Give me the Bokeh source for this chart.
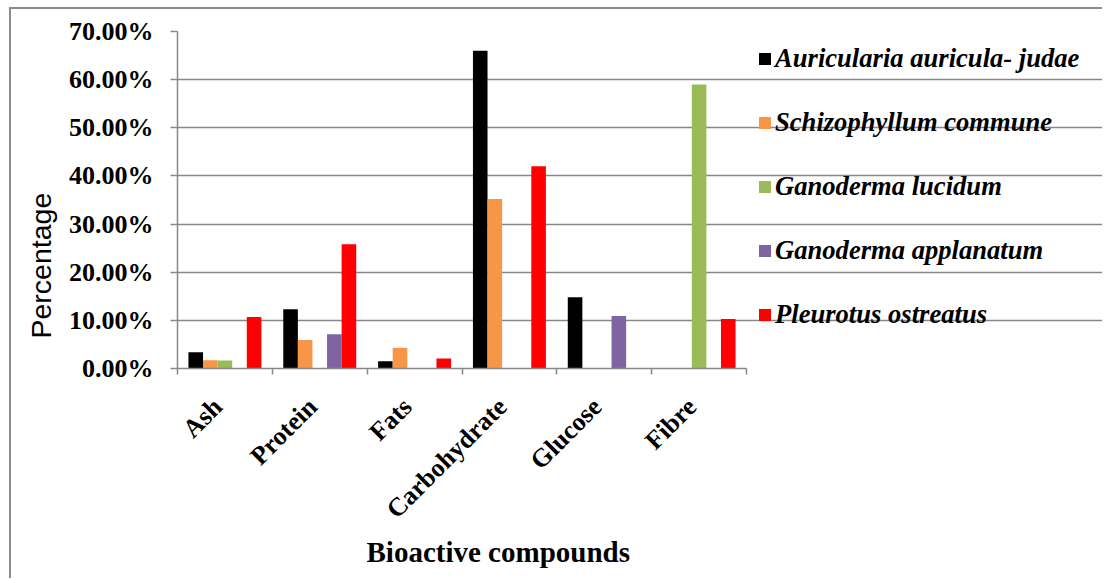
import math
from bokeh.plotting import figure
from bokeh.models import Range1d, FixedTicker, PrintfTickFormatter, Legend, LegendItem, ColumnDataSource, Title
from bokeh.embed import file_html
from bokeh.resources import INLINE

categories = ["Ash", "Protein", "Fats", "Carbohydrate", "Glucose", "Fibre"]
series_names = ["Auricularia auricula- judae", "Schizophyllum commune", "Ganoderma lucidum",
                "Ganoderma applanatum", "Pleurotus ostreatus"]
auricularia = [3.4, 12.3, 1.5, 66.0, 14.8, 0.0]
schizophyllum = [1.7, 5.9, 4.3, 35.2, 0.0, 0.0]
ganoderma_lucidum = [1.65, 0.0, 0.0, 0.0, 0.0, 59.0]
ganoderma_applanatum = [0.0, 7.1, 0.0, 0.0, 10.9, 0.0]
pleurotus = [10.7, 25.8, 2.1, 42.0, 0.0, 10.3]
series_values = [auricularia, schizophyllum, ganoderma_lucidum, ganoderma_applanatum, pleurotus]
colors = ["#000000", "#F79646", "#9BBB59", "#8064A2", "#FF0000"]
y_ticks = [0, 10, 20, 30, 40, 50, 60, 70]

SERIF = "Liberation Serif"
GRID = "#888888"

FIG_W, FIG_H = 1093, 571
LEFT, TOP, BOTTOM = 166, 22, 212
PLOT_PX = 569                      # width of the bar area in px
frame_px = FIG_W - LEFT            # frame extends to the right edge (legend lives there)
ncat = len(categories)
x_end = ncat * frame_px / PLOT_PX

p = figure(width=FIG_W, height=FIG_H, x_range=Range1d(0, x_end), y_range=Range1d(0, 70),
           output_backend="svg", toolbar_location=None,
           min_border_left=LEFT, min_border_right=0, min_border_top=TOP, min_border_bottom=BOTTOM)
p.styles = {"border-left": "2px solid #8c8c8c", "border-top": "2px solid #8c8c8c",
            "margin-left": "9px", "margin-top": "7px"}
p.outline_line_color = None
p.background_fill_color = "white"
p.border_fill_color = "white"

bar_w = 1 / 6.5
n = len(series_names)
items = []
for k, (name, vals, col) in enumerate(zip(series_names, series_values, colors)):
    xs = [i + 0.5 + (k - (n - 1) / 2) * bar_w for i in range(ncat)]
    src = ColumnDataSource(dict(x=xs, top=vals))
    r = p.vbar(x="x", top="top", width=bar_w, source=src, fill_color=col, line_color=None)
    items.append(LegendItem(label=name, renderers=[r]))

# x axis: labels at category centres, tick marks at category boundaries
label_shift = 0.075
label_pos = [i + 0.5 - label_shift for i in range(ncat)]
p.xaxis.bounds = (0, ncat)
p.xaxis.ticker = FixedTicker(ticks=label_pos, minor_ticks=list(range(ncat + 1)))
p.xaxis.major_label_overrides = {x: c for x, c in zip(label_pos, categories)}
p.xaxis.major_tick_out = 0
p.xaxis.major_tick_in = 0
p.xaxis.minor_tick_out = 6
p.xaxis.minor_tick_in = 0
p.xaxis.minor_tick_line_color = GRID
p.xaxis.minor_tick_line_width = 1.5
p.xaxis.major_label_orientation = math.pi / 4
p.xaxis.major_label_standoff = 28
p.xaxis.major_label_text_font = SERIF
p.xaxis.major_label_text_font_style = "bold"
p.xaxis.major_label_text_font_size = "26px"
p.xaxis.major_label_text_color = "black"

# y axis
p.yaxis.ticker = FixedTicker(ticks=y_ticks, minor_ticks=[])
p.yaxis.formatter = PrintfTickFormatter(format="%.2f%%")
p.yaxis.major_tick_out = 7
p.yaxis.major_tick_in = 0
p.yaxis.major_label_standoff = 17
p.yaxis.major_label_text_font = SERIF
p.yaxis.major_label_text_font_style = "bold"
p.yaxis.major_label_text_font_size = "26px"
p.yaxis.major_label_text_color = "black"

for ax in (p.xaxis, p.yaxis):
    ax.axis_line_color = GRID
    ax.axis_line_width = 1.5
    ax.major_tick_line_color = GRID
    ax.major_tick_line_width = 1.5

p.xgrid.visible = False
p.ygrid.ticker = FixedTicker(ticks=y_ticks)
p.ygrid.bounds = (0, ncat)
p.ygrid.grid_line_color = GRID
p.ygrid.grid_line_width = 1.5

# axis titles
ytitle = Title(text="Percentage", align="left", offset=30, standoff=17,
               text_font="Liberation Sans", text_font_style="normal",
               text_font_size="28.5px", text_color="black")
p.add_layout(ytitle, "left")
xtitle = Title(text="Bioactive compounds", align="left", offset=189, standoff=-7,
               text_font=SERIF, text_font_style="bold",
               text_font_size="29px", text_color="black")
p.add_layout(xtitle, "below")

legend = Legend(items=items, location=(580, 38), padding=0, margin=0, spacing=33,
                glyph_width=15, glyph_height=15, label_height=31, label_standoff=3,
                label_text_font=SERIF, label_text_font_style="bold italic",
                label_text_font_size="26.6px", label_text_color="black",
                border_line_color=None, background_fill_alpha=0)
p.add_layout(legend, "center")

open("out.html", "w").write(file_html(p, INLINE))
